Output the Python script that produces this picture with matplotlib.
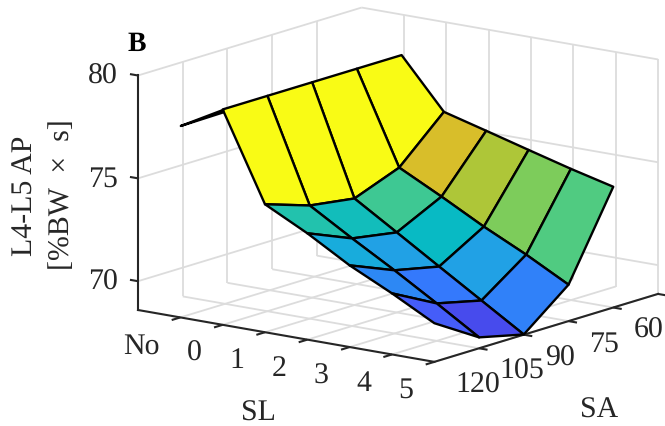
import numpy as np
import matplotlib
matplotlib.use("Agg")
import matplotlib.pyplot as plt
from matplotlib.colors import LinearSegmentedColormap, Normalize
from mpl_toolkits.mplot3d import proj3d
from mpl_toolkits.mplot3d.art3d import Poly3DCollection

plt.rcParams['font.family'] = ['Liberation Serif', 'DejaVu Serif']
plt.rcParams['text.hinting'] = 'no_hinting'

# ---- data ----
sl_tick_pos = [-1, 0, 1, 2, 3, 4, 5]
sl_tick_labels = ['No', '0', '1', '2', '3', '4', '5']
sa_tick_pos = [120, 105, 90, 75, 60]
sa_tick_labels = ['120', '105', '90', '75', '60']
z_ticks = [70, 75, 80]

sl_values = [0, 1, 2, 3, 4, 5]
sa_values = [135, 120, 105, 90, 75]
ap_sl0 = [79.07, 79.07, 79.07, 79.07, 79.07]
ap_sl1 = [74.82, 74.10, 73.78, 74.62, 76.67]
ap_sl2 = [73.77, 72.86, 72.49, 73.57, 76.11]
ap_sl3 = [72.57, 71.67, 71.19, 72.47, 75.54]
ap_sl4 = [71.57, 70.42, 69.90, 71.47, 74.98]
ap_sl5 = [70.48, 69.13, 68.61, 70.37, 74.47]
ap_no = 77.93

parula_idx = [0, 7, 12, 16, 21, 25, 29, 32, 35, 39, 42, 45, 48, 51, 54, 57, 61, 63]
parula_rgb = [
    (0.2422, 0.1504, 0.6603), (0.2803, 0.2782, 0.9221), (0.2699, 0.3892, 0.9906),
    (0.1963, 0.4847, 0.9892), (0.1540, 0.5902, 0.9218), (0.1113, 0.6635, 0.8763),
    (0.0036, 0.7203, 0.7917), (0.0964, 0.7500, 0.7120), (0.1938, 0.7758, 0.6251),
    (0.3406, 0.8008, 0.4789), (0.5044, 0.7993, 0.3480), (0.6720, 0.7793, 0.2227),
    (0.8203, 0.7498, 0.1535), (0.9393, 0.7288, 0.2100), (0.9970, 0.7659, 0.2199),
    (0.9786, 0.8310, 0.1766), (0.9628, 0.9373, 0.1265), (0.9769, 0.9839, 0.0805),
]
parula = LinearSegmentedColormap.from_list(
    'parula', [(i / 63, c) for i, c in zip(parula_idx, parula_rgb)])

# ---- style / geometry ----
W, H = 665, 427
XLIM = (-2, 5)
YLIM = (135, 60)
ZLIM = (68.6, 80)
DARK = '#262626'
GRID = '#dcdcdc'
FS = 21.5

fig = plt.figure(figsize=(W / 100, H / 100), dpi=100)
ax = fig.add_axes([0.1, 0.1, 0.6, 0.6 * W / H], projection='3d',
                  proj_type='ortho', computed_zorder=False)
ax.view_init(elev=13.33, azim=-52.8)
ax.set_box_aspect((372.8, 370.7, 241.5))
ax.set_xlim(*XLIM, view_margin=0)
ax.set_ylim(*YLIM, view_margin=0)
ax.set_zlim(*ZLIM, view_margin=0)
ax.set_axis_off()


def to_px(x, y, z):
    ax.apply_aspect()
    px, py, _ = proj3d.proj_transform(x, y, z, ax.get_proj())
    dx, dy = ax.transData.transform((px, py))
    return dx, H - dy


# calibrate the axes box so the plot box lands where it does in the reference
a0 = to_px(XLIM[0], YLIM[0], ZLIM[0])
b0 = to_px(XLIM[1], YLIM[1], ZLIM[1])
scale = (658 - 138) / (b0[0] - a0[0])
pos = ax.get_position()
side = pos.width * scale
ax.set_position([pos.x0, pos.y0, side, side * W / H])
a1 = to_px(XLIM[0], YLIM[0], ZLIM[0])
pos = ax.get_position()
ax.set_position([pos.x0 + (138 - a1[0]) / W, pos.y0 - (311 - a1[1]) / H,
                 pos.width, pos.height])

# ---- grid ----
gkw = dict(color=GRID, lw=1.3, zorder=1, solid_capstyle='butt')
for z in z_ticks:
    ax.plot([XLIM[0], XLIM[0]], YLIM, [z, z], **gkw)
    ax.plot(XLIM, [YLIM[1], YLIM[1]], [z, z], **gkw)
for x in sl_tick_pos:
    ax.plot([x, x], YLIM, [ZLIM[0], ZLIM[0]], **gkw)
    ax.plot([x, x], [YLIM[1], YLIM[1]], ZLIM, **gkw)
for y in sa_tick_pos[:-1]:
    ax.plot(XLIM, [y, y], [ZLIM[0], ZLIM[0]], **gkw)
    ax.plot([XLIM[0], XLIM[0]], [y, y], ZLIM, **gkw)

# ---- axis lines & ticks ----
akw = dict(color=DARK, lw=1.5, zorder=2, solid_capstyle='projecting')
ax.plot(XLIM, [YLIM[0], YLIM[0]], [ZLIM[0], ZLIM[0]], **akw)
ax.plot([XLIM[1], XLIM[1]], YLIM, [ZLIM[0], ZLIM[0]], **akw)
ax.plot([XLIM[0], XLIM[0]], [YLIM[0], YLIM[0]], ZLIM, **akw)
tkw = dict(color=DARK, lw=1.5, zorder=2, solid_capstyle='butt')
for x in sl_tick_pos:
    ax.plot([x, x], [YLIM[0], YLIM[0] + 2.9], [ZLIM[0], ZLIM[0]], **tkw)
for y in sa_tick_pos:
    ax.plot([XLIM[1], XLIM[1] + 0.2], [y, y], [ZLIM[0], ZLIM[0]], **tkw)
for z in z_ticks:
    ax.plot([XLIM[0], XLIM[0] - 0.19], [YLIM[0], YLIM[0]], [z, z], **tkw)

# ---- surface ----
Z = np.array([ap_sl0, ap_sl1, ap_sl2, ap_sl3, ap_sl4, ap_sl5])
X, Y = np.meshgrid(sl_values, sa_values, indexing='ij')
norm = Normalize(Z.min(), Z.max())
cell_values = np.hstack([Z[:, 1:], Z[:, -1:]])
ax.plot_surface(X, Y, Z, rstride=1, cstride=1, facecolors=parula(norm(cell_values)),
                shade=False, edgecolor='black', linewidth=1.7, antialiased=True, zorder=3)
sliver = [[(-1, 135, ap_no), (0, 135, ap_sl0[0]), (0, 135, ap_sl0[0] - 0.12)]]
ax.add_collection3d(Poly3DCollection(sliver, facecolors=[parula(norm(ap_no))],
                                     edgecolors='black', linewidths=1.7, zorder=4))


# ---- text ----
def put(px, py, s, **kw):
    kw.setdefault('color', DARK)
    kw.setdefault('fontsize', FS)
    kw.setdefault('ha', 'center')
    kw.setdefault('va', 'center')
    fig.text(px / W, 1 - py / H, s, **kw)


for x, lab in zip(sl_tick_pos, sl_tick_labels):
    px, py = to_px(x, YLIM[0], ZLIM[0])
    put(px - 21, py + 28, lab, ha='right')
for y, lab in zip(sa_tick_pos, sa_tick_labels):
    px, py = to_px(XLIM[1], y, ZLIM[0])
    put(px - 24, py + 36, lab, ha='left')
for z in z_ticks:
    px, py = to_px(XLIM[0], YLIM[0], z)
    put(px - 20, py, str(z), ha='right')

put(258, 413, 'SL')
put(599, 410, 'SA')
put(25, 196, 'L4-L5 AP', rotation=90)
put(62, 195, '[%BW  ×  s]', rotation=90)
put(137, 44, 'B', color='black', fontweight='bold', fontsize=20)

fig.savefig('out.png', dpi=100)
